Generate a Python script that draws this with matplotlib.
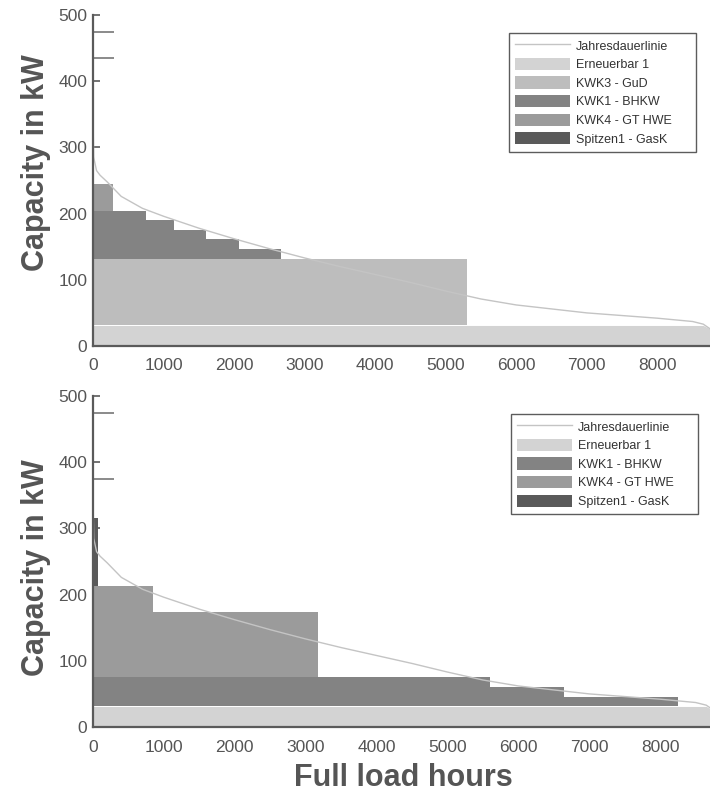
import numpy as np
import matplotlib
matplotlib.use("Agg")
import matplotlib.pyplot as plt
from matplotlib.patches import Patch
from matplotlib.lines import Line2D

plt.rcParams['font.family'] = ['Liberation Sans', 'DejaVu Sans']

# ---------------- data ----------------
# annual load duration curve (Jahresdauerlinie), hours vs kW
load_hours = [0, 10, 50, 100, 200, 400, 700, 1000, 1500, 2000, 2500, 3000, 3500,
              4000, 4500, 5000, 5500, 6000, 6500, 7000, 7500, 8000, 8500, 8650, 8760]
load_kw = [345, 285, 265, 258, 248, 226, 208, 196, 178, 162, 147, 133, 120,
           108, 96, 83, 71, 62, 56, 50, 46, 42, 37, 33, 25]

renewable_kw = 31  # Erneuerbar 1 base band

# top panel: blocks as (start h, end h, lower kW, upper kW)
top_kwk3_start = [0];     top_kwk3_end = [5300];  top_kwk3_low = [31];  top_kwk3_high = [131]
top_kwk1_start = [0, 750, 1150, 1600, 2070]
top_kwk1_end = [750, 1150, 1600, 2070, 2670]
top_kwk1_low = [131, 131, 131, 131, 131]
top_kwk1_high = [204, 190, 175, 161, 146]
top_kwk4_start = [0];     top_kwk4_end = [290];   top_kwk4_low = [204]; top_kwk4_high = [245]

# bottom panel
bot_kwk1_start = [0, 5600, 6650]
bot_kwk1_end = [5600, 6650, 8250]
bot_kwk1_low = [31, 31, 31]
bot_kwk1_high = [75, 60, 45]
bot_kwk4_start = [0, 840]
bot_kwk4_end = [840, 3170]
bot_kwk4_low = [75, 75]
bot_kwk4_high = [213, 173]
bot_spitzen_start = [0];  bot_spitzen_end = [70]; bot_spitzen_low = [213]; bot_spitzen_high = [315]

# stray marks on the y axes of the source image
odd_marks_top = [475, 435]
odd_marks_bot = [474, 375]

yticks = [0, 100, 200, 300, 400, 500]
xticks = [0, 1000, 2000, 3000, 4000, 5000, 6000, 7000, 8000]

labels_top = ['Jahresdauerlinie', 'Erneuerbar 1', 'KWK3 - GuD', 'KWK1 - BHKW',
              'KWK4 - GT HWE', 'Spitzen1 - GasK']
labels_bot = ['Jahresdauerlinie', 'Erneuerbar 1', 'KWK1 - BHKW',
              'KWK4 - GT HWE', 'Spitzen1 - GasK']

# ---------------- style ----------------
c_ren = '#d3d3d3'
c_kwk3 = '#bdbdbd'
c_kwk1 = '#838383'
c_kwk4 = '#9b9b9b'
c_spitz = '#5a5a5a'
c_line = '#c4c4c4'
c_axis = '#5a5a5a'
c_text = '#555555'

W, H = 710, 793
fig = plt.figure(figsize=(W / 100, H / 100), dpi=100)


def axes_px(left, top, right, bottom):
    return fig.add_axes([left / W, 1 - bottom / H, (right - left) / W, (bottom - top) / H])


def blocks(ax, start, end, low, high, color):
    s = np.array(start, float); e = np.array(end, float)
    lo = np.array(low, float); hi = np.array(high, float)
    ax.bar(s, hi - lo, width=e - s, bottom=lo, align='edge', color=color,
           edgecolor='none', linewidth=0, zorder=2)


def base(ax):
    lh = np.array(load_hours, float)
    lk = np.array(load_kw, float)
    ax.fill_between(lh, 0, np.minimum(lk, renewable_kw), color=c_ren, lw=0, zorder=2)
    ax.plot(lh, lk, color=c_line, lw=1.0, zorder=4)


def style(ax, odd):
    ax.set_xlim(0, 8760)
    ax.set_ylim(0, 500)
    ax.set_xticks(xticks)
    ax.set_yticks(yticks)
    ax.set_yticks(odd, minor=True)
    for s in ['top', 'right']:
        ax.spines[s].set_visible(False)
    for s in ['left', 'bottom']:
        ax.spines[s].set_color(c_axis)
        ax.spines[s].set_linewidth(1.6)
        ax.spines[s].set_zorder(5)
    ax.tick_params(axis='both', which='major', direction='in', length=5, width=1.2,
                   color=c_axis, labelsize=12.5, labelcolor=c_text)
    ax.tick_params(axis='y', which='major', pad=4)
    ax.tick_params(axis='x', which='major', pad=9)
    ax.tick_params(axis='y', which='minor', direction='in', length=15, width=1.2, color='#777777')
    ax.tick_params(axis='x', which='minor', length=0)
    ax.set_facecolor('white')


h_line = Line2D([], [], color=c_line, lw=1.0)
h_ren = Patch(facecolor=c_ren, edgecolor='none')
h_kwk3 = Patch(facecolor=c_kwk3, edgecolor='none')
h_kwk1 = Patch(facecolor=c_kwk1, edgecolor='none')
h_kwk4 = Patch(facecolor=c_kwk4, edgecolor='none')
h_spitz = Patch(facecolor=c_spitz, edgecolor='none')

leg_kw = dict(fontsize=9.0, frameon=True, fancybox=False, handlelength=4.4,
              handleheight=1.15, labelspacing=0.41, handletextpad=0.45,
              borderpad=0.5, borderaxespad=0.0, loc='upper left', mode='expand')


def style_legend(leg):
    leg.get_frame().set_edgecolor('#333333')
    leg.get_frame().set_linewidth(1.0)
    for t in leg.get_texts():
        t.set_color('#333333')


# ---------------- top panel ----------------
ax1 = axes_px(93, 15, 711, 346)
base(ax1)
blocks(ax1, top_kwk3_start, top_kwk3_end, top_kwk3_low, top_kwk3_high, c_kwk3)
blocks(ax1, top_kwk1_start, top_kwk1_end, top_kwk1_low, top_kwk1_high, c_kwk1)
blocks(ax1, top_kwk4_start, top_kwk4_end, top_kwk4_low, top_kwk4_high, c_kwk4)
style(ax1, odd_marks_top)
ax1.set_ylabel('Capacity in kW', fontsize=22, fontweight='bold', color=c_text)
ax1.yaxis.set_label_coords(-0.068, 0.555)

leg1 = ax1.legend([h_line, h_ren, h_kwk3, h_kwk1, h_kwk4, h_spitz], labels_top,
                  bbox_to_anchor=((509 - 93) / 618, (346 - 33) / 331 - 0.01,
                                  (696 - 509) / 618, 0.01), **leg_kw)
style_legend(leg1)

# ---------------- bottom panel ----------------
ax2 = axes_px(93, 396, 714, 727)
base(ax2)
blocks(ax2, bot_kwk1_start, bot_kwk1_end, bot_kwk1_low, bot_kwk1_high, c_kwk1)
blocks(ax2, bot_kwk4_start, bot_kwk4_end, bot_kwk4_low, bot_kwk4_high, c_kwk4)
blocks(ax2, bot_spitzen_start, bot_spitzen_end, bot_spitzen_low, bot_spitzen_high, c_spitz)
style(ax2, odd_marks_bot)
ax2.set_ylabel('Capacity in kW', fontsize=22, fontweight='bold', color=c_text)
ax2.yaxis.set_label_coords(-0.068, 0.48)
ax2.set_xlabel('Full load hours', fontsize=22, fontweight='bold', color=c_text, labelpad=6)

leg2 = ax2.legend([h_line, h_ren, h_kwk1, h_kwk4, h_spitz], labels_bot,
                  bbox_to_anchor=((511 - 93) / 621, (727 - 414) / 331 - 0.01,
                                  (698 - 511) / 621, 0.01), **leg_kw)
style_legend(leg2)

fig.savefig('out.png', dpi=100, facecolor='white')
